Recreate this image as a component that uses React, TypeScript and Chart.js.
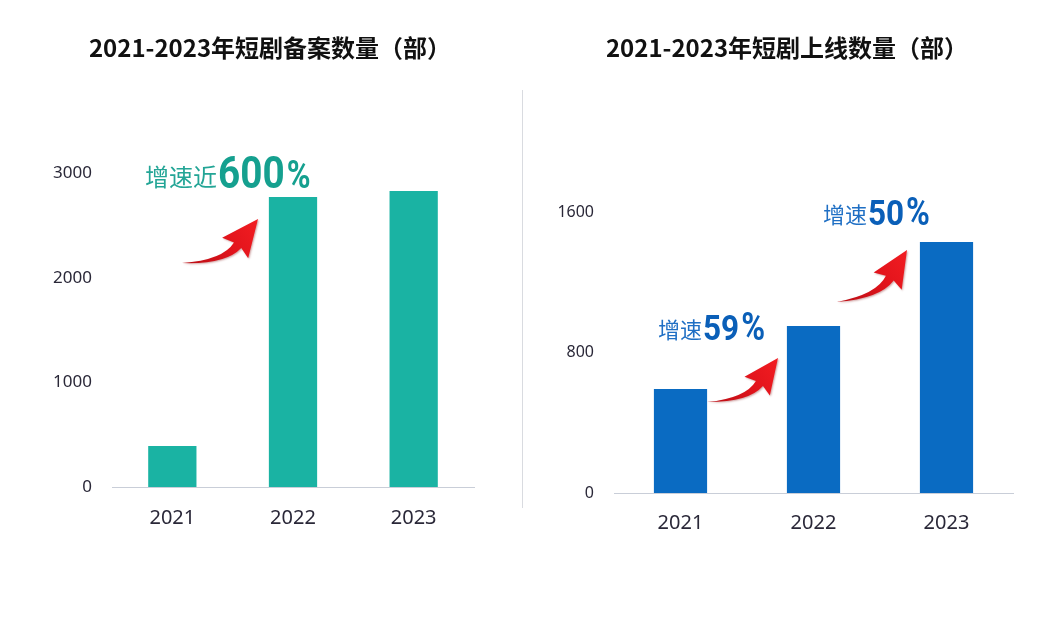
import React, { useEffect, useRef } from "react";
import { Chart, registerables } from "chart.js";

Chart.register(...registerables);

// ---------- data ----------
const years = ["2021", "2022", "2023"];
const filingCounts = [392, 2770, 2827];
const releaseCounts = [592, 951, 1429];
const filingTickValues = [0, 1000, 2000, 3000];
const releaseTickValues = [0, 800, 1600];

const filingTitle = "2021-2023年短剧备案数量（部）";
const releaseTitle = "2021-2023年短剧上线数量（部）";

// annotations, in data units (category index + fraction, value)
const filingNotes = [{ at: [-0.226, 2857], prefix: "增速近", num: "600", pct: "%" }];
const filingArrows = [{ from: [0.08, 2140], to: [0.71, 2560] }];
const releaseNotes = [
  { at: [-0.169, 871], prefix: "增速", num: "59", pct: "%" },
  { at: [1.071, 1526], prefix: "增速", num: "50", pct: "%" },
];
const releaseArrows = [
  { from: [0.2, 518], to: [0.733, 769] },
  { from: [1.175, 1088], to: [1.703, 1384] },
];

const TEAL = "#1ab3a3";
const BLUE = "#0a6bc2";

type NoteStyle = {
  cjkSize: number;
  cjkColor: string;
  numSize: number;
  numColor: string;
  squeeze: number;
  pctSize: number;
};

function toPx(chart: any, p: number[]) {
  const xs = chart.scales.x;
  const ys = chart.scales.y;
  const x0 = xs.getPixelForValue(0);
  const w = xs.getPixelForValue(1) - x0;
  return { x: x0 + p[0] * w, y: ys.getPixelForValue(p[1]) };
}

function drawArrow(ctx: CanvasRenderingContext2D, T: any, P: any) {
  const dx = P.x - T.x;
  const dy = P.y - T.y;
  const L = Math.hypot(dx, dy);
  const u = { x: dx / L, y: dy / L };
  const n = { x: -u.y, y: u.x };
  const g = (a: number, b: number) => ({
    x: T.x + (a * u.x + b * n.x) * L,
    y: T.y + (a * u.y + b * n.y) * L,
  });
  const cOut = g(0.42, 0.265);
  const cIn = g(0.42, 0.205);
  const bOut = g(0.67, 0.19);
  const bIn = g(0.63, 0.094);
  const wOut = g(0.68, 0.33);
  const wIn = g(0.54, -0.02);
  const tip = g(1, 0);
  ctx.save();
  const grad = ctx.createLinearGradient(T.x, T.y, P.x, P.y);
  grad.addColorStop(0, "#b80d14");
  grad.addColorStop(0.6, "#e3141c");
  grad.addColorStop(1, "#f21d22");
  ctx.fillStyle = grad;
  ctx.shadowColor = "rgba(120,0,0,0.35)";
  ctx.shadowBlur = 2;
  ctx.shadowOffsetX = 1;
  ctx.shadowOffsetY = 1;
  ctx.beginPath();
  ctx.moveTo(T.x, T.y);
  ctx.quadraticCurveTo(cOut.x, cOut.y, bOut.x, bOut.y);
  ctx.lineTo(wOut.x, wOut.y);
  ctx.lineTo(tip.x, tip.y);
  ctx.lineTo(wIn.x, wIn.y);
  ctx.lineTo(bIn.x, bIn.y);
  ctx.quadraticCurveTo(cIn.x, cIn.y, T.x, T.y);
  ctx.closePath();
  ctx.fill();
  ctx.restore();
}

function drawNote(ctx: CanvasRenderingContext2D, x: number, y: number, note: any, s: NoteStyle) {
  ctx.save();
  ctx.textAlign = "left";
  ctx.textBaseline = "alphabetic";
  ctx.font = `${s.cjkSize}px "Noto Sans CJK SC"`;
  ctx.fillStyle = s.cjkColor;
  ctx.fillText(note.prefix, x, y - 2);
  let cx = x + ctx.measureText(note.prefix).width + 1;
  ctx.font = `bold ${s.numSize}px Roboto`;
  ctx.fillStyle = s.numColor;
  ctx.save();
  ctx.translate(cx, y);
  ctx.scale(s.squeeze, 1);
  ctx.fillText(note.num, 0, 0);
  ctx.restore();
  cx += ctx.measureText(note.num).width * s.squeeze + 2;
  ctx.font = `bold ${s.pctSize}px Roboto`;
  ctx.save();
  ctx.translate(cx, y);
  ctx.scale(0.85, 1);
  ctx.fillText(note.pct, 0, 0);
  ctx.restore();
  ctx.restore();
}

function makeAnnotationPlugin(notes: any[], arrows: any[], style: NoteStyle) {
  return {
    id: "notes",
    afterDatasetsDraw(chart: any) {
      const ctx = chart.ctx;
      arrows.forEach((a) => drawArrow(ctx, toPx(chart, a.from), toPx(chart, a.to)));
      notes.forEach((nt) => {
        const p = toPx(chart, nt.at);
        drawNote(ctx, p.x, p.y, nt, style);
      });
    },
  };
}

function makeTitlePlugin(text: string, cx: number, cy: number) {
  return {
    id: "panelTitle",
    afterDraw(chart: any) {
      const ctx = chart.ctx;
      ctx.save();
      ctx.font = 'bold 24px "Noto Sans CJK SC", sans-serif';
      ctx.fillStyle = "#111111";
      ctx.textAlign = "center";
      ctx.textBaseline = "middle";
      ctx.fillText(text, cx, cy);
      ctx.restore();
    },
  };
}

type Cfg = {
  values: number[];
  ticks: number[];
  color: string;
  padLeft: number;
  padRight: number;
  padTop: number;
  padBottom: number;
  yFont: number;
  xPad: number;
  plugins: any[];
};

function BarPanel({ width, height, cfg }: { width: number; height: number; cfg: Cfg }) {
  const ref = useRef<HTMLCanvasElement | null>(null);
  useEffect(() => {
    if (!ref.current) return;
    const tickMax = cfg.ticks[cfg.ticks.length - 1];
    const step = cfg.ticks[1] - cfg.ticks[0];
    const chart = new Chart(ref.current, {
      type: "bar",
      data: {
        labels: years,
        datasets: [
          {
            data: cfg.values,
            backgroundColor: cfg.color,
            borderWidth: 0,
            categoryPercentage: 1,
            barPercentage: 0.4,
          },
        ],
      },
      options: {
        responsive: false,
        animation: false,
        events: [],
        layout: {
          padding: { left: cfg.padLeft, right: cfg.padRight, top: cfg.padTop, bottom: cfg.padBottom },
        },
        plugins: {
          legend: { display: false },
          tooltip: { enabled: false },
          title: { display: false },
        },
        scales: {
          x: {
            grid: { display: false, drawTicks: false },
            border: { display: true, color: "#c9ced8", width: 1 },
            ticks: {
              color: "#2a2838",
              padding: cfg.xPad,
              font: { size: 20, family: '"Noto Sans", sans-serif', lineHeight: 1.2 },
            },
            afterFit: (s: any) => {
              s.height = 60;
            },
          },
          y: {
            min: 0,
            max: tickMax,
            grid: { display: false, drawTicks: false },
            border: { display: false },
            afterBuildTicks: (s: any) => {
              s.ticks = cfg.ticks.map((v) => ({ value: v }));
            },
            ticks: {
              stepSize: step,
              color: "#2a2838",
              padding: 20,
              font: { size: cfg.yFont, family: '"Noto Sans", sans-serif' },
              callback: (v: any) => String(v),
            },
            afterFit: (s: any) => {
              s.width = 80;
            },
          },
        },
      },
      plugins: cfg.plugins,
    });
    return () => chart.destroy();
  }, []);
  return <canvas ref={ref} width={width} height={height} style={{ display: "block" }} />;
}

export default function App() {
  useEffect(() => {
    document.body.style.margin = "0";
    document.body.style.background = "#ffffff";
  }, []);

  const leftCfg: Cfg = {
    values: filingCounts,
    ticks: filingTickValues,
    color: TEAL,
    padLeft: 32,
    padRight: 48,
    padTop: 173,
    padBottom: 79,
    yFont: 17,
    xPad: 19,
    plugins: [
      makeAnnotationPlugin(filingNotes, filingArrows, {
        cjkSize: 24,
        cjkColor: "#23a596",
        numSize: 45,
        numColor: "#15a08f",
        squeeze: 0.86,
        pctSize: 38,
      }),
      makeTitlePlugin(filingTitle, 270, 48),
    ],
  };
  const rightCfg: Cfg = {
    values: releaseCounts,
    ticks: releaseTickValues,
    color: BLUE,
    padLeft: 12,
    padRight: 35,
    padTop: 212,
    padBottom: 73,
    yFont: 16,
    xPad: 18,
    plugins: [
      makeAnnotationPlugin(releaseNotes, releaseArrows, {
        cjkSize: 22,
        cjkColor: "#1f6fc4",
        numSize: 35,
        numColor: "#0a5fb8",
        squeeze: 0.9,
        pctSize: 38,
      }),
      makeTitlePlugin(releaseTitle, 265, 48),
    ],
  };

  return (
    <div style={{ position: "relative", width: 1048, height: 626, background: "#ffffff", overflow: "hidden" }}>
      <div style={{ position: "absolute", left: 0, top: 0, width: 522, height: 626 }}>
        <BarPanel width={522} height={626} cfg={leftCfg} />
      </div>
      <div
        style={{
          position: "absolute",
          left: 522,
          top: 90,
          width: 1,
          height: 418,
          background: "#d9dbe0",
        }}
      />
      <div style={{ position: "absolute", left: 522, top: 0, width: 526, height: 626 }}>
        <BarPanel width={526} height={626} cfg={rightCfg} />
      </div>
    </div>
  );
}
